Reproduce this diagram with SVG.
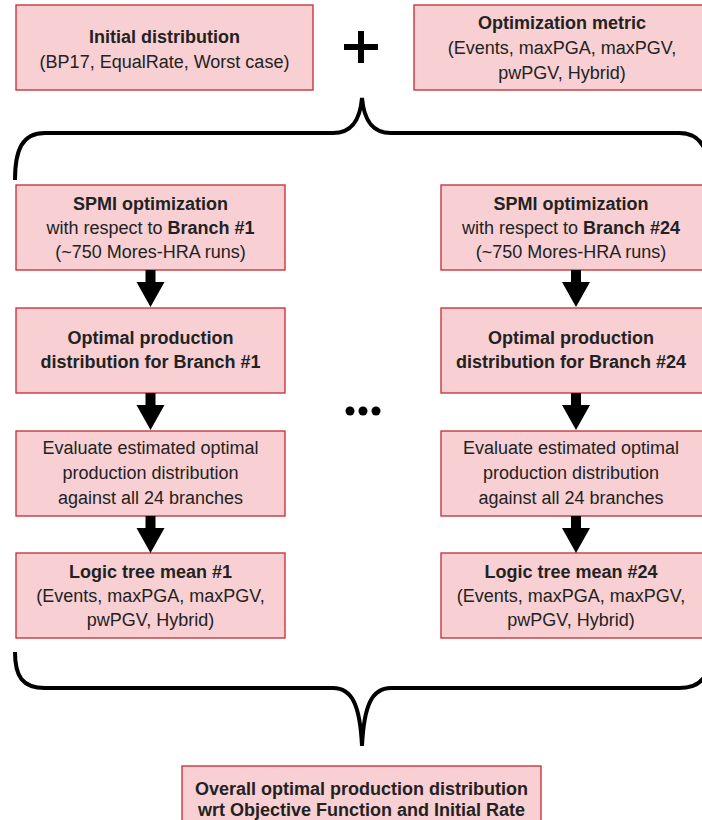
<svg xmlns="http://www.w3.org/2000/svg" width="702" height="820" viewBox="0 0 702 820">
<style>
.box{fill:#f8d0d3;stroke:#c42a30;stroke-width:1.3}
.t{font-family:"Liberation Sans",Arial,sans-serif;font-size:18px;fill:#222;text-anchor:middle}
.b{font-weight:bold}
.brace{fill:none;stroke:#000;stroke-width:4;stroke-linecap:butt}
.arrow{fill:#000}
</style>
<rect width="702" height="820" fill="#fff"/>
<g id="initial">
<rect class="box" x="16" y="5" width="297" height="85"/>
<text class="t b" x="164.5" y="43">Initial distribution</text>
<text class="t" x="164.5" y="68">(BP17, EqualRate, Worst case)</text>
</g>
<g id="plus">
<path d="M344,47 H378 M361,31 V63" stroke="#000" stroke-width="6"/>
</g>
<g id="metric">
<rect class="box" x="414" y="5" width="297" height="85"/>
<text class="t b" x="562" y="29">Optimization metric</text>
<text class="t" x="562" y="54">(Events, maxPGA, maxPGV,</text>
<text class="t" x="562" y="79">pwPGV, Hybrid)</text>
</g>
<g id="spmi1">
<rect class="box" x="16" y="185" width="269" height="85"/>
<text class="t b" x="150.5" y="210">SPMI optimization</text>
<text class="t" x="150.5" y="234">with respect to <tspan class="b">Branch #1</tspan></text>
<text class="t" x="150.5" y="258">(~750 Mores-HRA runs)</text>
</g>
<g id="opt1">
<rect class="box" x="16" y="308" width="269" height="85"/>
<text class="t b" x="150.5" y="344">Optimal production</text>
<text class="t b" x="150.5" y="368">distribution for Branch #1</text>
</g>
<g id="eval1">
<rect class="box" x="16" y="431" width="269" height="85"/>
<text class="t" x="150.5" y="454">Evaluate estimated optimal</text>
<text class="t" x="150.5" y="479">production distribution</text>
<text class="t" x="150.5" y="504">against all 24 branches</text>
</g>
<g id="mean1">
<rect class="box" x="16" y="553" width="269" height="85"/>
<text class="t b" x="150.5" y="578">Logic tree mean #1</text>
<text class="t" x="150.5" y="602">(Events, maxPGA, maxPGV,</text>
<text class="t" x="150.5" y="626">pwPGV, Hybrid)</text>
</g>
<g id="spmi24">
<rect class="box" x="441" y="185" width="269" height="85"/>
<text class="t b" x="571" y="210">SPMI optimization</text>
<text class="t" x="571" y="234">with respect to <tspan class="b">Branch #24</tspan></text>
<text class="t" x="571" y="258">(~750 Mores-HRA runs)</text>
</g>
<g id="opt24">
<rect class="box" x="441" y="308" width="269" height="85"/>
<text class="t b" x="571" y="344">Optimal production</text>
<text class="t b" x="571" y="368">distribution for Branch #24</text>
</g>
<g id="eval24">
<rect class="box" x="441" y="431" width="269" height="85"/>
<text class="t" x="571" y="454">Evaluate estimated optimal</text>
<text class="t" x="571" y="479">production distribution</text>
<text class="t" x="571" y="504">against all 24 branches</text>
</g>
<g id="mean24">
<rect class="box" x="441" y="553" width="269" height="85"/>
<text class="t b" x="571" y="578">Logic tree mean #24</text>
<text class="t" x="571" y="602">(Events, maxPGA, maxPGV,</text>
<text class="t" x="571" y="626">pwPGV, Hybrid)</text>
</g>
<g id="dots" fill="#000">
<circle cx="350" cy="411" r="4.5"/>
<circle cx="363" cy="411" r="4.5"/>
<circle cx="376" cy="411" r="4.5"/>
</g>
<g id="final">
<rect class="box" x="182" y="766" width="359" height="70"/>
<text class="t b" x="361.5" y="795">Overall optimal production distribution</text>
<text class="t b" x="361.5" y="816">wrt Objective Function and Initial Rate</text>
</g>
<g id="connectors">
<path class="brace" d="M15,180 C15,150 22,133 45,133 L333,133 C352,133 360,120 362,98 C364,120 372,133 391,133 L679,133 C702,133 709,150 709,180"/>
<path class="brace" d="M15,652 C15,676 22,688 45,688 L333,688 C352,688 360,705 362,746 C364,705 372,688 391,688 L679,688 C702,688 709,676 709,652"/>
<path class="arrow" d="M145.5,270 h10 v12 h9 l-14,25 l-14,-25 h9 z"/>
<path class="arrow" d="M145.5,393 h10 v12 h9 l-14,25 l-14,-25 h9 z"/>
<path class="arrow" d="M145.5,516 h10 v12 h9 l-14,25 l-14,-25 h9 z"/>
<path class="arrow" d="M571,270 h10 v12 h9 l-14,25 l-14,-25 h9 z"/>
<path class="arrow" d="M571,393 h10 v12 h9 l-14,25 l-14,-25 h9 z"/>
<path class="arrow" d="M571,516 h10 v12 h9 l-14,25 l-14,-25 h9 z"/>
</g>
</svg>
